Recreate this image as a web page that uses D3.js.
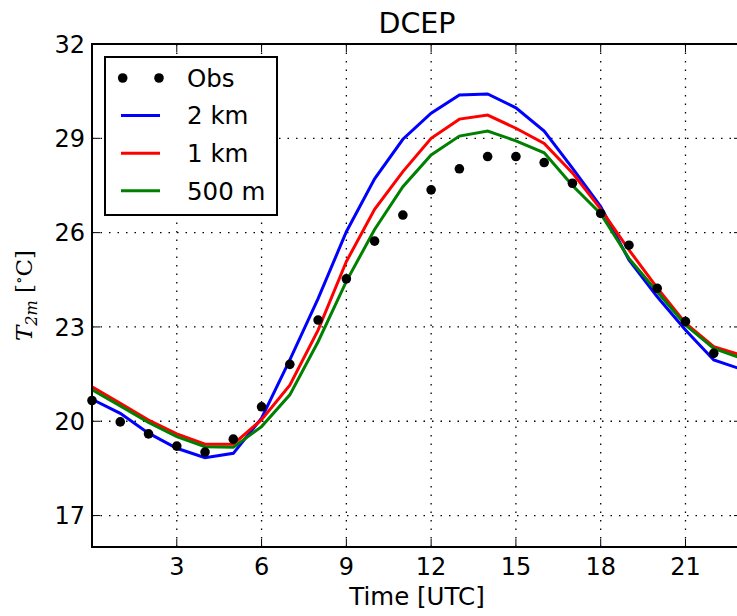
<!DOCTYPE html>
<html>
<head>
<meta charset="utf-8">
<script src="https://cdn.jsdelivr.net/npm/d3@7"></script>
<style>
    body { margin: 0; background: white; }
    svg { display: block; }
</style>
</head>
<body>
<div id="chart"></div>
<script>
(function () {
    const width = 737;
    const height = 616;
    // plot box runs a little past the right edge of the picture, like the reference
    const margin = { top: 44, right: -5, bottom: 69, left: 92 };

    // Data (hours UTC, temperature in deg C)
    const obsHours = d3.range(0, 23);
    const obs = [20.66, 19.98, 19.6, 19.21, 19.02, 19.43, 20.46, 21.81, 23.22, 24.53, 25.73, 26.56,
                 27.36, 28.03, 28.42, 28.42, 28.23, 27.57, 26.61, 25.6, 24.23, 23.17, 22.16];
    const modelHours = d3.range(0, 24);
    const km2 = [20.7, 20.25, 19.62, 19.14, 18.84, 18.98, 20.1, 21.95, 23.9, 26.03, 27.71, 28.97,
                 29.8, 30.38, 30.41, 29.97, 29.23, 28.05, 26.83, 25.13, 23.96, 22.9, 21.95, 21.65];
    const km1 = [21.1, 20.57, 20.04, 19.6, 19.27, 19.27, 20.05, 21.15, 22.9, 25.08, 26.74, 27.94,
                 29.0, 29.61, 29.74, 29.32, 28.84, 27.9, 26.75, 25.45, 24.24, 23.12, 22.37, 22.1];
    const m500 = [21.0, 20.49, 19.96, 19.51, 19.19, 19.17, 19.83, 20.84, 22.53, 24.45, 26.1, 27.46,
                  28.47, 29.07, 29.23, 28.92, 28.54, 27.5, 26.6, 25.18, 24.12, 23.06, 22.32, 22.0];
    const xTicks = [3, 6, 9, 12, 15, 18, 21];
    const yTicks = [17, 20, 23, 26, 29, 32];

    const series = [
        { name: "2 km", values: km2, color: "#0000ff" },
        { name: "1 km", values: km1, color: "#ff0000" },
        { name: "500 m", values: m500, color: "#008000" }
    ];

    const svg = d3.select("#chart")
        .append("svg")
        .attr("width", width)
        .attr("height", height)
        .style("font-family", "'DejaVu Sans', sans-serif");

    const x = d3.scaleLinear()
        .domain([0, 23])
        .range([margin.left, width - margin.right]);
    const y = d3.scaleLinear()
        .domain([16, 32])
        .range([height - margin.bottom, margin.top]);

    const tickLen = 8;

    // Grid
    const grid = svg.append("g")
        .attr("stroke", "black")
        .attr("stroke-width", 1.3)
        .attr("stroke-dasharray", "1.5,7");
    grid.selectAll(".gx")
        .data(xTicks)
        .enter()
        .append("line")
        .attr("x1", d => x(d)).attr("x2", d => x(d))
        .attr("y1", y(16)).attr("y2", y(32));
    grid.selectAll(".gy")
        .data(yTicks)
        .enter()
        .append("line")
        .attr("x1", x(0)).attr("x2", x(23))
        .attr("y1", d => y(d)).attr("y2", d => y(d));

    // Model lines
    const line = d3.line()
        .x((d, i) => x(modelHours[i]))
        .y(d => y(d));
    svg.append("g")
        .selectAll("path")
        .data(series)
        .enter()
        .append("path")
        .attr("d", d => line(d.values))
        .attr("fill", "none")
        .attr("stroke", d => d.color)
        .attr("stroke-width", 3)
        .attr("stroke-linejoin", "miter");

    // Observations
    svg.append("g")
        .selectAll("circle")
        .data(obs)
        .enter()
        .append("circle")
        .attr("cx", (d, i) => x(obsHours[i]))
        .attr("cy", d => y(d))
        .attr("r", 4.8)
        .attr("fill", "black");

    // Ticks (inward, all four sides)
    const ticks = svg.append("g")
        .attr("stroke", "black")
        .attr("stroke-width", 1);
    xTicks.forEach(t => {
        ticks.append("line")
            .attr("x1", x(t)).attr("x2", x(t))
            .attr("y1", y(16)).attr("y2", y(16) - tickLen);
        ticks.append("line")
            .attr("x1", x(t)).attr("x2", x(t))
            .attr("y1", y(32)).attr("y2", y(32) + tickLen);
    });
    yTicks.forEach(t => {
        ticks.append("line")
            .attr("x1", x(0)).attr("x2", x(0) + tickLen)
            .attr("y1", y(t)).attr("y2", y(t));
        ticks.append("line")
            .attr("x1", x(23)).attr("x2", x(23) - tickLen)
            .attr("y1", y(t)).attr("y2", y(t));
    });

    // Frame
    svg.append("rect")
        .attr("x", x(0))
        .attr("y", y(32))
        .attr("width", x(23) - x(0))
        .attr("height", y(16) - y(32))
        .attr("fill", "none")
        .attr("stroke", "black")
        .attr("stroke-width", 2);

    // Tick labels
    svg.append("g")
        .selectAll("text")
        .data(xTicks)
        .enter()
        .append("text")
        .attr("x", d => x(d))
        .attr("y", y(16) + 28)
        .attr("text-anchor", "middle")
        .style("font-size", "24px")
        .text(d => d);
    svg.append("g")
        .selectAll("text")
        .data(yTicks)
        .enter()
        .append("text")
        .attr("x", x(0) - 7)
        .attr("y", d => y(d))
        .attr("dy", "0.36em")
        .attr("text-anchor", "end")
        .style("font-size", "24px")
        .text(d => d);

    // Title and axis labels
    svg.append("text")
        .attr("x", (x(0) + x(23)) / 2)
        .attr("y", 33)
        .attr("text-anchor", "middle")
        .style("font-size", "28.5px")
        .text("DCEP");

    svg.append("text")
        .attr("x", (x(0) + x(23)) / 2)
        .attr("y", 605)
        .attr("text-anchor", "middle")
        .style("font-size", "24.5px")
        .text("Time [UTC]");

    const ylab = svg.append("text")
        .attr("transform", `translate(32, ${y(24)}) rotate(-90)`)
        .attr("text-anchor", "middle")
        .style("font-family", "'DejaVu Serif', serif")
        .style("font-size", "23px");
    ylab.append("tspan").style("font-style", "italic").text("T");
    ylab.append("tspan").style("font-style", "italic").style("font-size", "16px")
        .attr("dy", 5).text("2m");
    ylab.append("tspan").attr("dy", -5).text(" [");
    ylab.append("tspan").style("font-size", "15px").attr("dy", -8).text("∘");
    ylab.append("tspan").attr("dy", 8).text("C]");

    // Legend
    const legend = svg.append("g");
    legend.append("rect")
        .attr("x", 105)
        .attr("y", 57)
        .attr("width", 172)
        .attr("height", 158)
        .attr("fill", "white")
        .attr("stroke", "black")
        .attr("stroke-width", 2);
    const rowY = i => 78 + i * 37.6;
    legend.selectAll(".dot")
        .data([122.7, 159])
        .enter()
        .append("circle")
        .attr("cx", d => d)
        .attr("cy", rowY(0))
        .attr("r", 4.8)
        .attr("fill", "black");
    legend.selectAll(".ln")
        .data(series)
        .enter()
        .append("line")
        .attr("x1", 121).attr("x2", 160)
        .attr("y1", (d, i) => rowY(i + 1)).attr("y2", (d, i) => rowY(i + 1))
        .attr("stroke", d => d.color)
        .attr("stroke-width", 3);
    legend.selectAll("text")
        .data(["Obs"].concat(series.map(s => s.name)))
        .enter()
        .append("text")
        .attr("x", 187)
        .attr("y", (d, i) => rowY(i))
        .attr("dy", "0.36em")
        .style("font-size", "24.5px")
        .text(d => d);
})();
</script>
</body>
</html>
